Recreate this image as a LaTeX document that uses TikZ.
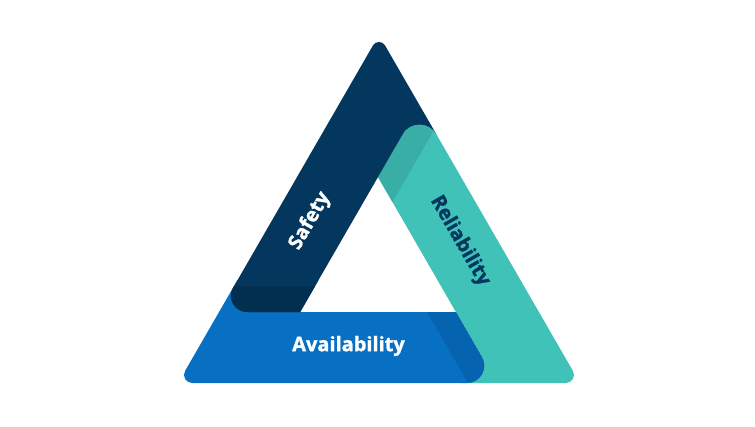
\documentclass[tikz,border=0pt]{standalone}
\usepackage{fontspec}
\newfontfamily\labfont{Open Sans}[BoldFeatures={FakeBold=1.3}]
\usetikzlibrary{calc}
\definecolor{navy}{HTML}{03375E}
\definecolor{navydark}{HTML}{022E50}
\definecolor{teal}{HTML}{40C2B8}
\definecolor{tealdark}{HTML}{39AEA6}
\definecolor{blue}{HTML}{0870C3}
\definecolor{bluedark}{HTML}{0563AF}
\newcommand\mkcorner[5]{%
  \coordinate (#1a) at ($(#3)!#5pt!(#2)$);
  \coordinate (#1p) at ($(#3)!0.556*#5pt!(#2)$);
  \coordinate (#1q) at ($(#3)!0.556*#5pt!(#4)$);
  \coordinate (#1b) at ($(#3)!#5pt!(#4)$);}
\tikzset{lbl/.style={font=\labfont\bfseries\fontsize{20}{24}\selectfont, inner sep=0pt}}
\begin{document}
\begin{tikzpicture}[x=1pt,y=-1pt]
\useasboundingbox (0,0) rectangle (755,426);
% geometry
\coordinate (A) at (379,35);
\coordinate (BL) at (178.1,383);
\coordinate (BR) at (579.9,383);
\coordinate (IA) at (378,177);
\coordinate (IL) at (300.1,312);
\coordinate (IR) at (455.9,312);
\coordinate (P) at (419.5,105.1);
\coordinate (R) at (219.1,312);
\coordinate (S) at (496.9,383);
\coordinate (Ub) at (462,383);
\coordinate (E1) at (318.6,280);
\coordinate (E2) at (237.5,280);
\mkcorner{tp}{IA}{P}{BR}{34}
\mkcorner{br}{P}{BR}{BL}{14}
\mkcorner{bl}{A}{BL}{BR}{14}
\mkcorner{s}{BL}{S}{IR}{30}
\mkcorner{r}{IL}{R}{A}{28}
\mkcorner{ap}{R}{A}{P}{12}
\def\tealpath{(tpa) .. controls (tpp) and (tpq) .. (tpb) -- (bra) .. controls (brp) and (brq) .. (brb) -- (Ub) -- (IR) -- (IA) -- cycle}
\def\bluepath{(IR) -- (IL) -- (E1) -- (E2) -- (bla) .. controls (blp) and (blq) .. (blb) -- (sa) .. controls (sp) and (sq) .. (sb) -- cycle}
\def\navypath{(apb) -- (P) -- (IL) -- (ra) .. controls (rp) and (rq) .. (rb) -- (apa) .. controls (app) and (apq) .. (apb) -- cycle}
% navy seen under the teal's rounded top
\fill[navy] (P) -- ($(tpa)+(-2,0)$) -- (tpb) -- cycle;
% Reliability band
\fill[teal] \tealpath;
\begin{scope}
  \clip \tealpath;
  \fill[tealdark] (445.6,60) -- (474.5,60) -- (359,260) -- (330.1,260) -- cycle;
\end{scope}
% Availability band
\fill[blue] \bluepath;
\begin{scope}
  \clip \bluepath;
  \fill[bluedark] (427,312) -- (455.9,312) -- (507.9,402) -- (479,402) -- cycle;
\end{scope}
% Safety band
\fill[navy] \navypath;
\begin{scope}
  \clip \navypath;
  \fill[navydark] (150,286) rectangle (350,320);
\end{scope}
% labels
\node[lbl, text=white, rotate=60] (safety) at (310,221) {Safety};
\node[lbl, text=navy, rotate=-60] (reliability) at (460,241) {Reliability};
\node[lbl, text=white] (availability) at (348.5,346) {Availability};
\end{tikzpicture}
\end{document}
